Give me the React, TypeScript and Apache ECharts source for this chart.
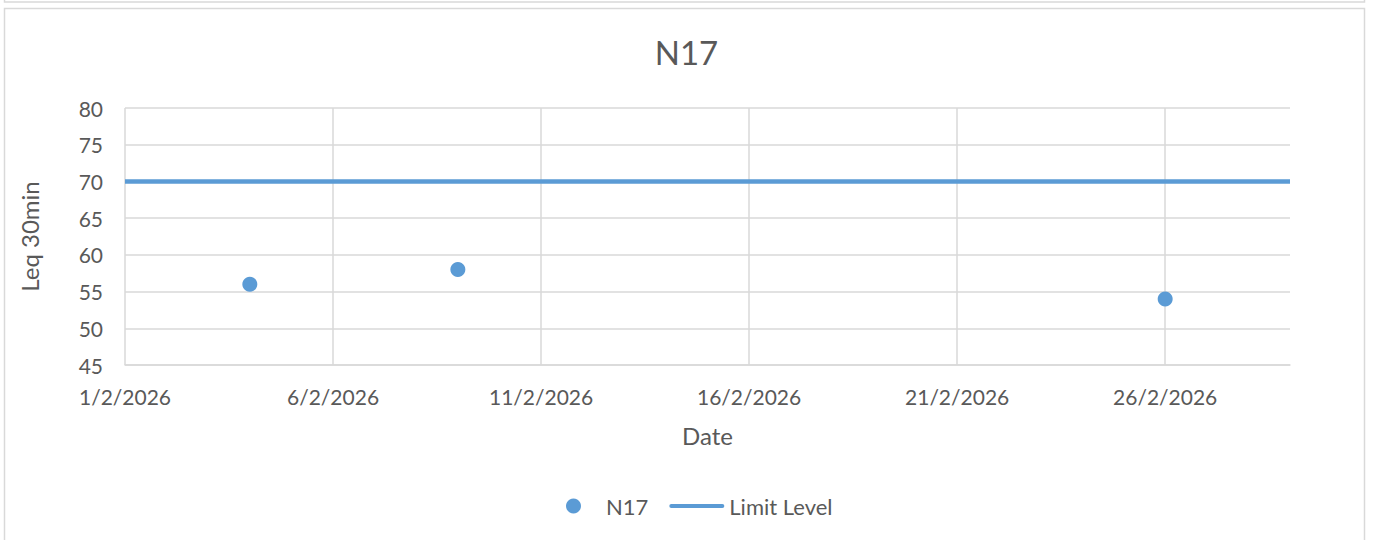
import React, { useEffect, useRef } from 'react';
import * as echarts from 'echarts';

const chartTitle = 'N17';
const seriesName = 'N17';
const limitName = 'Limit Level';
const xAxisTitle = 'Date';
const yAxisTitle = 'Leq 30min';

const pointDates = ['2026-02-04', '2026-02-09', '2026-02-26'];
const pointValues = [56, 58, 54];

const limitDates = ['2026-02-01', '2026-03-01'];
const limitValues = [70, 70];

const axisStartDate = '2026-02-01';
const axisEndDate = '2026-03-01';
const xTickDays = 5;
const yMin = 45;
const yMax = 80;
const yStep = 5;

const DAY = 86400000;
const toUTC = (s: string) => {
  const [y, m, d] = s.split('-').map(Number);
  return Date.UTC(y, m - 1, d);
};
const startMs = toUTC(axisStartDate);
const dayOffset = (s: string) => (toUTC(s) - startMs) / DAY;
const fmtDay = (v: number) => {
  const d = new Date(startMs + v * DAY);
  return `${d.getUTCDate()}/${d.getUTCMonth() + 1}/${d.getUTCFullYear()}`;
};

const FONT = 'Lato, "Open Sans", sans-serif';
const TEXT = '#595959';
const GRID = '#d9d9d9';
const BLUE = '#5b9bd5';

export default function App() {
  const ref = useRef<HTMLDivElement>(null);
  useEffect(() => {
    if (!ref.current) return;
    const chart = echarts.init(ref.current, null, { renderer: 'svg' });
    const xMax = dayOffset(axisEndDate);
    const tickCount = Math.floor(xMax / xTickDays) + 1;
    const splitColors: string[] = [];
    for (let i = 0; i < tickCount; i++) splitColors.push(GRID);
    if (xMax % xTickDays !== 0) splitColors.push('transparent');

    chart.setOption({
      animation: false,
      backgroundColor: '#ffffff',
      textStyle: { fontFamily: FONT },
      title: {
        text: chartTitle,
        left: 'center',
        top: 30,
        textStyle: { fontFamily: FONT, fontSize: 33, fontWeight: 'normal', color: TEXT },
      },
      graphic: [
        { type: 'rect', shape: { x: 4.5, y: -10, width: 1360, height: 12 }, style: { fill: 'none', stroke: GRID, lineWidth: 1.5 }, silent: true },
        { type: 'rect', shape: { x: 4.5, y: 8.5, width: 1360, height: 560 }, style: { fill: 'none', stroke: GRID, lineWidth: 1.5 }, silent: true },
      ],
      legend: {
        left: 561,
        top: 490,
        itemWidth: 55,
        itemHeight: 15,
        itemGap: 21,
        textStyle: { fontFamily: FONT, fontSize: 22, color: TEXT },
        data: [
          { name: seriesName, icon: 'circle' },
          { name: limitName, icon: 'path://M2,0 H53 A2,2 0 0 1 53,4 H2 A2,2 0 0 1 2,0 Z' },
        ],
      },
      grid: { left: 125, right: 83, top: 108, bottom: 175, containLabel: false },
      xAxis: {
        type: 'value',
        min: 0,
        max: xMax,
        interval: xTickDays,
        name: xAxisTitle,
        nameLocation: 'middle',
        nameGap: 58,
        nameTextStyle: { fontFamily: FONT, fontSize: 24, color: TEXT },
        axisLine: { show: true, lineStyle: { color: GRID, width: 1.5 } },
        axisTick: { show: false },
        axisLabel: {
          margin: 21,
          showMaxLabel: false,
          fontFamily: FONT,
          fontSize: 21,
          color: TEXT,
          formatter: (v: number) => (v % xTickDays === 0 ? fmtDay(v) : ''),
        },
        splitLine: { show: true, lineStyle: { color: splitColors, width: 1.5 } },
      },
      yAxis: {
        type: 'value',
        min: yMin,
        max: yMax,
        interval: yStep,
        name: yAxisTitle,
        nameLocation: 'middle',
        nameGap: 84,
        nameTextStyle: { fontFamily: FONT, fontSize: 24, color: TEXT },
        axisLine: { show: false },
        axisTick: { show: false },
        axisLabel: { margin: 22, fontFamily: FONT, fontSize: 21, color: TEXT },
        splitLine: { show: true, lineStyle: { color: GRID, width: 1.5 } },
      },
      series: [
        {
          name: seriesName,
          type: 'scatter',
          symbol: 'circle',
          symbolSize: 15,
          itemStyle: { color: BLUE, opacity: 1 },
          data: pointDates.map((d, i) => [dayOffset(d), pointValues[i]]),
          z: 3,
        },
        {
          name: limitName,
          type: 'line',
          symbol: 'none',
          showSymbol: false,
          lineStyle: { color: BLUE, width: 4.5 },
          itemStyle: { color: BLUE },
          data: limitDates.map((d, i) => [dayOffset(d), limitValues[i]]),
          z: 2,
        },
      ],
    });
    return () => chart.dispose();
  }, []);
  return (
    <div
      ref={ref}
      style={{ position: 'fixed', left: 0, top: 0, width: 1373, height: 540 }}
    />
  );
}
